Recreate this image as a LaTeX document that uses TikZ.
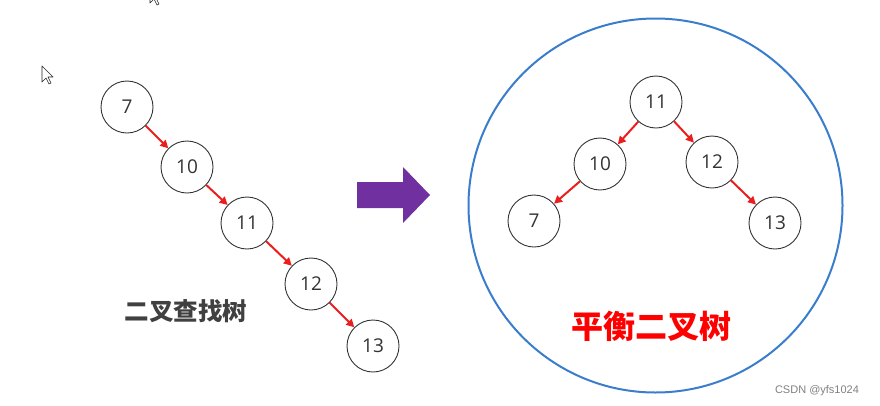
\documentclass[tikz,border=0pt]{standalone}
\usepackage{fontspec}
\setmainfont{Open Sans}
\newfontfamily\cjk{Noto Sans CJK SC}
\newfontfamily\marksans{Liberation Sans}
\usetikzlibrary{arrows.meta}
\definecolor{ringblue}{RGB}{58,125,205}
\definecolor{arrowpurple}{RGB}{112,48,160}
\definecolor{edgered}{RGB}{235,30,30}
\tikzset{
  treenode/.style={circle,draw=black!80,line width=0.9pt,minimum size=52pt,
    inner sep=0pt,font=\fontsize{19}{19}\selectfont,text=black!80},
  edge/.style={draw=edgered,line width=2pt,-{Triangle[length=8pt,width=8pt]}},
  cursor/.style={draw=black!85,fill=white,line width=0.6pt,line join=round}
}
\begin{document}
\begin{tikzpicture}[x=1pt,y=-1pt]
  \useasboundingbox (0,0) rectangle (880,405);
  % mouse pointers from the screenshot
  \foreach \cx/\cy in {42/66, 150/-13} {
    \draw[cursor] (\cx,\cy) -- ++(0,16) -- ++(4,-4) -- ++(3,6) -- ++(2,-1)
      -- ++(-3,-6) -- ++(5,0) -- cycle;
  }
  % left: search tree as a chain
  \foreach \x/\y/\v in {127/107/7, 187/167/10, 247/223/11, 311/284/12, 373/346/13} {
    \node[treenode] (l\v) at (\x,\y) {\v};
  }
  \foreach \a/\b in {7/10, 10/11, 11/12, 12/13} {
    \draw[edge] (l\a) -- (l\b);
  }
  \node[font=\cjk\bfseries\fontsize{24.5}{24.5}\selectfont,text=black!75] (bstlabel)
    at (186,311) {二叉查找树};
  % block arrow
  \fill[arrowpurple] (357,182) -- (403,182) -- (403,167) -- (430,195)
    -- (403,223) -- (403,208) -- (357,208) -- cycle;
  % right: balanced tree in a ring
  \draw[ringblue,line width=2pt] (655.5,205.5) circle (187pt);
  \foreach \x/\y/\v in {656/102/11, 600/164/10, 712/162/12, 534/221/7, 775/223/13} {
    \node[treenode] (r\v) at (\x,\y) {\v};
  }
  \foreach \a/\b in {11/10, 11/12, 10/7, 12/13} {
    \draw[edge] (r\a) -- (r\b);
  }
  \node[font=\cjk\bfseries\fontsize{32}{32}\selectfont,text=red] (avllabel)
    at (651,326) {平衡二叉树};
  \node[font=\marksans\fontsize{11}{11}\selectfont,text=black!50] (mark)
    at (817,391) {CSDN @yfs1024};
\end{tikzpicture}
\end{document}
